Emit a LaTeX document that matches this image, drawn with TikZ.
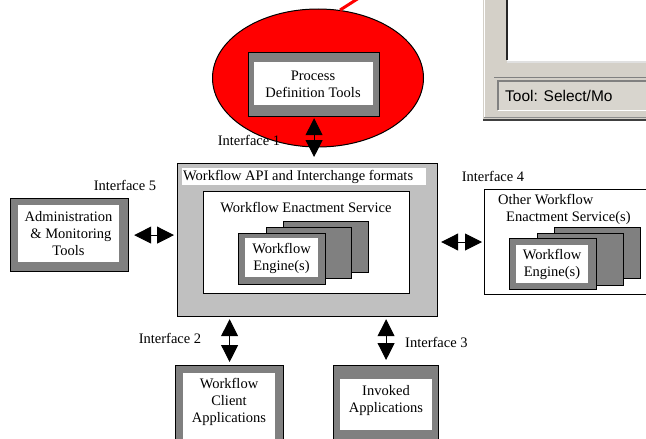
\documentclass[tikz,border=0pt]{standalone}
\usepackage{fontspec}
\setmainfont{Liberation Serif}
\newfontfamily\uifont{Liberation Sans}
\usetikzlibrary{shapes.geometric,arrows.meta}
\definecolor{boxgray}{HTML}{808080}
\definecolor{apigray}{HTML}{C0C0C0}
\definecolor{wingray}{HTML}{D4D0C8}
\definecolor{redfill}{HTML}{FF0000}
\begin{document}
\begin{tikzpicture}[x=1pt,y=-1pt,
  txt/.style={font=\fontsize{14.5}{17}\selectfont, align=center, inner sep=0},
  frame/.style={draw, line width=1.2pt, inner sep=0, anchor=north west},
  graybox/.style={frame, fill=boxgray},
  whitebox/.style={draw=none, fill=white, inner sep=0, anchor=north west},
  dbl/.style={{Triangle[length=17pt,width=17pt]}-{Triangle[length=17pt,width=17pt]}, line width=1pt},
]
\useasboundingbox (0,0) rectangle (646,439);
\clip (0,0) rectangle (646,439);
\fill[white] (0,0) rectangle (646,439);

% screenshot fragment (top right)
\fill[wingray] (483,-5) rectangle (650,120);
\draw[white, line width=1.5pt] (484.5,-5) -- (484.5,118);
\draw[black!75, line width=2pt] (483,120) -- (650,120);
\draw[black!45, line width=1pt] (484,117.5) -- (650,117.5);
\fill[white] (507,-5) rectangle (650,61);
\draw[black!85, line width=1.5pt] (507,-5) -- (507,60);
\draw[black!12, line width=1.5pt] (507,62) -- (650,62);
\draw[black!50, line width=1pt] (494,77) -- (650,77);
\fill[wingray!90!white] (498,81) rectangle (650,110);
\draw[black!50, line width=1.2pt] (498,110) -- (498,81) -- (650,81);
\draw[white, line width=1.2pt] (498,110.5) -- (650,110.5);
\node[anchor=west, inner sep=0, font=\uifont\fontsize{15.5}{17}\selectfont] (tool) at (505,96) {Tool: Select/Mo};

% process definition tools
\node[ellipse, draw, line width=1pt, fill=redfill, minimum width=211, minimum height=138, inner sep=0] (ell) at (318,78) {};
\coordinate (redend) at (362,-4);
\draw[redfill, line width=3pt] (ell.72) -- (redend);
\node[graybox, minimum width=131, minimum height=64] (pdt) at (248,52) {};
\node[whitebox, minimum width=119, minimum height=43] (pdtw) at (254,62) {};
\node[txt] (pdtt) at (313,84) {Process\\Definition Tools};

% main API box
\node[frame, fill=apigray, minimum width=260, minimum height=153] (api) at (177,163) {};
\node[whitebox, minimum width=244, minimum height=17] (apit) at (182,168) {};
\node[txt, anchor=west] (apitxt) at (183,176.5) {Workflow API and Interchange formats};
\node[frame, fill=white, line width=1pt, minimum width=206, minimum height=102] (enact) at (203,191) {};
\node[txt] (enactt) at (306,208) {Workflow Enactment Service};
\node[graybox, minimum width=85, minimum height=51] (e3) at (283,221) {};
\node[graybox, minimum width=85, minimum height=51] (e2) at (266,227) {};
\node[graybox, minimum width=87, minimum height=51] (e1) at (238,233) {};
\node[whitebox, minimum width=73, minimum height=39] (e1w) at (245,238) {};
\node[txt] (e1t) at (281.5,258) {Workflow\\Engine(s)};

% administration
\node[graybox, minimum width=118, minimum height=73] (adm) at (10,198) {};
\node[whitebox, minimum width=101, minimum height=57] (admw) at (18,205) {};
\node[txt] (admt) at (68.5,234) {Administration\\\,\,\& Monitoring\\Tools};

% other workflow enactment services
\node[frame, fill=white, line width=1pt, minimum width=176, minimum height=105] (oth) at (484,189) {};
\node[txt, align=left, anchor=north west] (otht) at (498,194) {Other Workflow\\\hspace*{8pt}Enactment Service(s)};
\node[graybox, minimum width=86, minimum height=51] (o3) at (554,227) {};
\node[graybox, minimum width=86, minimum height=52] (o2) at (537,233) {};
\node[graybox, minimum width=87, minimum height=51] (o1) at (509,238) {};
\node[whitebox, minimum width=72, minimum height=38] (o1w) at (516,245) {};
\node[txt] (o1t) at (552,264) {Workflow\\Engine(s)};

% client applications
\node[graybox, minimum width=108, minimum height=85] (cli) at (175,365) {};
\node[whitebox, minimum width=92, minimum height=70] (cliw) at (183,373) {};
\node[txt] (clit) at (229,402) {Workflow\\Client\\Applications};

% invoked applications
\node[graybox, minimum width=105, minimum height=85] (inv) at (333,365) {};
\node[whitebox, minimum width=92, minimum height=51] (invw) at (340,379) {};
\node[txt] (invt) at (386,401) {Invoked\\Applications};

% interfaces
\draw[dbl, shorten <=1pt, shorten >=6pt] (pdt.south) -- (pdt.south |- api.north);
\draw[dbl, shorten <=5pt, shorten >=3pt] (adm.east) -- (adm.east -| api.west);
\draw[dbl, shorten <=3pt, shorten >=2pt] (api.east |- oth.west) -- (oth.west);
\draw[dbl, shorten <=2pt, shorten >=3pt] (cli.north |- api.south) -- (cli.north);
\draw[dbl, shorten <=2pt, shorten >=5pt] (inv.north |- api.south) -- (inv.north);

\node[txt] (if1) at (249,140) {Interface 1};
\node[txt] (if5) at (125,185) {Interface 5};
\node[txt] (if4) at (493,176) {Interface 4};
\node[txt] (if2) at (170,338) {Interface 2};
\node[txt, anchor=west] (if3) at (405,342) {Interface 3};
\end{tikzpicture}
\end{document}
